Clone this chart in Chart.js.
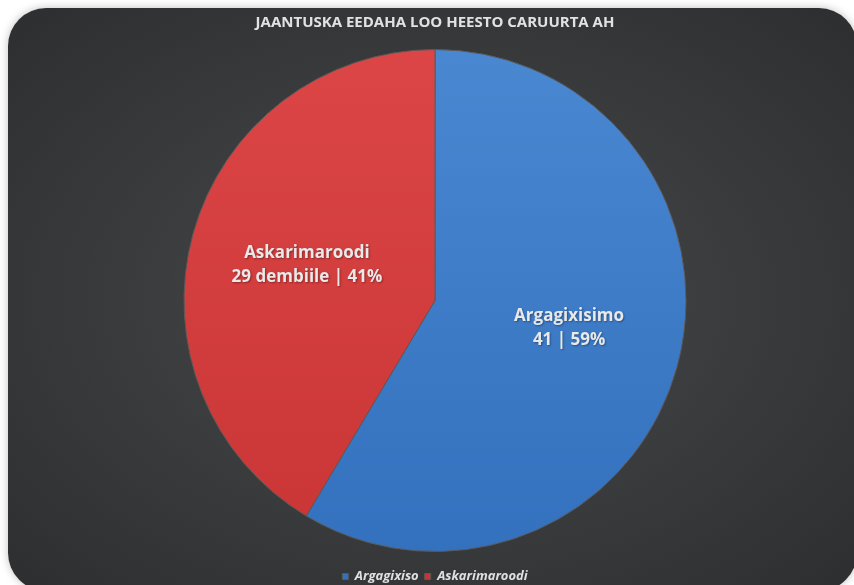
<!DOCTYPE html>
<html>
<head>
<meta charset="utf-8">
<script src="https://cdn.jsdelivr.net/npm/chart.js@4.4.1/dist/chart.umd.min.js"></script>
<style>
  html, body { margin: 0; padding: 0; background: #ffffff; }
  #wrap { position: relative; width: 854px; height: 585px; overflow: hidden; }
  #card {
    position: absolute; left: 8px; top: 8px; width: 849px; height: 583px;
    border-radius: 38px;
    background: radial-gradient(ellipse at 50% 50%, #48494a 0%, #3c3d3e 45%, #2d2e2f 100%);
    box-shadow: 0 0 8px rgba(0,0,0,0.25);
  }
  canvas { position: absolute; left: 0; top: 0; }
</style>
</head>
<body>
<div id="wrap">
  <div id="card"></div>
  <canvas id="c" width="854" height="585"></canvas>
</div>
<script>
const titleText = 'JAANTUSKA EEDAHA LOO HEESTO CARUURTA AH';
const categories = ['Argagixiso', 'Askarimaroodi'];
const sliceNames = ['Argagixisimo', 'Askarimaroodi'];
const values = [41, 29];
const valueSuffix = ['', ' dembiile'];
const baseColors = ['#3d7ac6', '#d43c3c'];
const topColors = ['#4a88d2', '#dc4646'];
const bottomColors = ['#3370bd', '#c93434'];

function sliceGradient(context) {
  const chart = context.chart;
  const area = chart.chartArea;
  const i = context.dataIndex;
  if (!area) return baseColors[i];
  const g = chart.ctx.createLinearGradient(0, area.top, 0, area.bottom);
  g.addColorStop(0, topColors[i]);
  g.addColorStop(1, bottomColors[i]);
  return g;
}

const sliceLabels = {
  id: 'sliceLabels',
  afterDatasetsDraw(chart, args, opts) {
    const ctx = chart.ctx;
    const meta = chart.getDatasetMeta(0);
    const total = values.reduce((a, b) => a + b, 0);
    const nudges = opts.nudges || [];
    ctx.save();
    ctx.font = 'bold 17px "Open Sans", sans-serif';
    ctx.fillStyle = '#e9e9e9';
    ctx.textAlign = 'center';
    ctx.textBaseline = 'middle';
    ctx.shadowColor = 'rgba(0,0,0,0.35)';
    ctx.shadowBlur = 2;
    ctx.shadowOffsetX = 1;
    ctx.shadowOffsetY = 1;
    meta.data.forEach((arc, i) => {
      const p = arc.getProps(['x', 'y', 'startAngle', 'endAngle', 'outerRadius']);
      const mid = (p.startAngle + p.endAngle) / 2;
      const r = p.outerRadius * 0.55;
      const n = nudges[i] || [0, 0];
      const x = p.x + Math.cos(mid) * r + n[0];
      const y = p.y + Math.sin(mid) * r + n[1];
      const pct = Math.round(values[i] / total * 100);
      ctx.fillText(sliceNames[i], x, y - 12);
      ctx.fillText(values[i] + valueSuffix[i] + ' | ' + pct + '%', x, y + 12);
    });
    ctx.restore();
  }
};

new Chart(document.getElementById('c'), {
  type: 'pie',
  data: {
    labels: categories,
    datasets: [{
      data: values,
      backgroundColor: sliceGradient,
      borderColor: '#5a5a5a',
      borderWidth: 1,
      radius: 251
    }]
  },
  options: {
    responsive: false,
    animation: false,
    layout: { padding: { left: 16, right: 0, top: 0, bottom: -8 } },
    plugins: {
      title: {
        display: true,
        text: titleText,
        color: '#e2e2e2',
        font: { family: '"Open Sans", sans-serif', size: 15, weight: 'bold' },
        padding: { top: 14, bottom: 5 }
      },
      legend: {
        position: 'bottom',
        labels: {
          color: '#e0e0e0',
          boxWidth: 6,
          boxHeight: 6,
          padding: 6,
          font: { family: '"Open Sans", sans-serif', size: 13, style: 'italic', weight: 'bold' }
        }
      },
      sliceLabels: { nudges: [[1, -9], [5, 1]] },
      tooltip: { enabled: false }
    }
  },
  plugins: [sliceLabels]
});
</script>
</body>
</html>
